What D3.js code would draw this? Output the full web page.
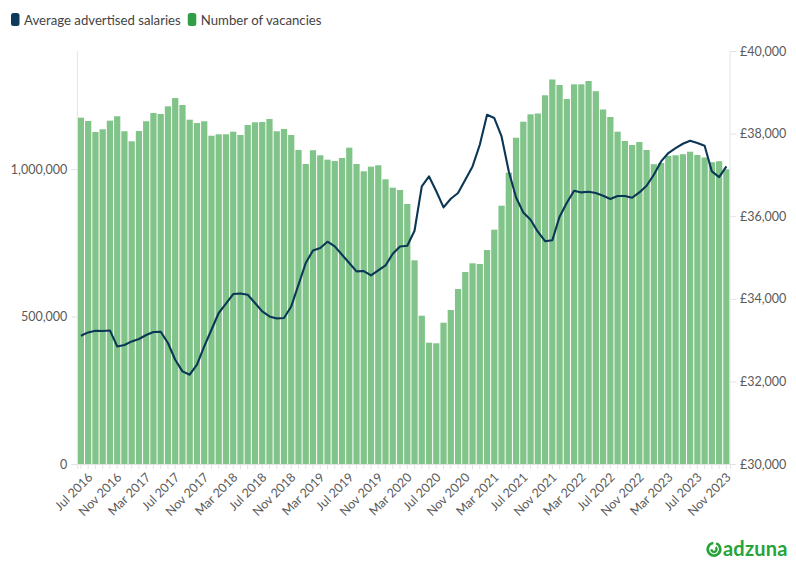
<!DOCTYPE html>
<html>
<head>
<meta charset="utf-8">
<script src="https://cdn.jsdelivr.net/npm/d3@7"></script>
<style>
  html, body { margin: 0; padding: 0; background: #fff; }
  svg { display: block; font-family: "Lato", "Open Sans", sans-serif; }
</style>
</head>
<body>
<svg id="chart" width="796" height="575"></svg>
<script>
// ---- data ----
const startMonth = "2016-07";
const monthCount = 90; // Jul 2016 .. Dec 2023
const vacancies = [
  1174000, 1162800, 1125500, 1134600, 1163800, 1178700, 1127900, 1093900, 1128900, 1161800,
  1189900, 1186500, 1212600, 1240700, 1217000, 1167200, 1156000, 1161800, 1112900, 1117700,
  1117700, 1126500, 1115300, 1149200, 1158300, 1159400, 1169600, 1127900, 1135700, 1115300,
  1064500, 1017000, 1063500, 1046500, 1031600, 1027200, 1037400, 1072300, 1017000, 992200,
  1007900, 1012600, 965100, 936700, 928900, 881400, 690500, 502700, 411200, 409200,
  479000, 522000, 593200, 650900, 680400, 678000, 725400, 794300, 875600, 987500,
  1106100, 1160400, 1185400, 1188200, 1249900, 1303400, 1284800, 1237300, 1287100, 1287100,
  1298300, 1263800, 1201700, 1176300, 1126500, 1094900, 1081400, 1091500, 1064400, 1016300,
  1020300, 1044800, 1046500, 1050200, 1058700, 1047500, 1039000, 1023100, 1026500, 999000
];
const salaries = [
  33106, 33186, 33227, 33220, 33234, 32847, 32881, 32968, 33026, 33123,
  33196, 33203, 32929, 32525, 32242, 32162, 32404, 32847, 33251, 33656,
  33881, 34116, 34130, 34099, 33898, 33694, 33573, 33525, 33535, 33815,
  34341, 34866, 35171, 35229, 35382, 35268, 35067, 34866, 34663, 34672,
  34566, 34687, 34808, 35091, 35268, 35285, 35648, 36721, 36963, 36605,
  36212, 36423, 36561, 36883, 37205, 37730, 38457, 38377, 37931, 37084,
  36454, 36091, 35915, 35624, 35394, 35418, 35987, 36326, 36617, 36576,
  36592, 36561, 36496, 36416, 36488, 36488, 36447, 36576, 36738, 37004,
  37326, 37529, 37650, 37754, 37827, 37771, 37706, 37084, 36948, 37205
];
const leftTicks = [0, 500000, 1000000];
const rightTicks = [30000, 32000, 34000, 36000, 38000, 40000];
const seriesNames = ["Average advertised salaries", "Number of vacancies"];
const labelEvery = 4;

// ---- build months ----
const parse = d3.timeParse("%Y-%m");
const fmtMonth = d3.timeFormat("%b %Y");
const months = d3.timeMonth.range(parse(startMonth), d3.timeMonth.offset(parse(startMonth), monthCount));
const data = months.map((m, i) => ({ m, key: fmtMonth(m), v: vacancies[i], s: salaries[i] }));

// ---- layout ----
const svg = d3.select("#chart");
const plotLeft = 77.3, plotRight = 730, plotTop = 51, plotBottom = 464;
const axisColor = "#e3e3e3";
const textColor = "#5a5a5a";

const x = d3.scaleBand().domain(data.map(d => d.key)).range([plotLeft, plotRight]).paddingInner(0.14).paddingOuter(0.07);
const yL = d3.scaleLinear().domain([0, 1400000]).range([plotBottom, plotTop]);
const yR = d3.scaleLinear().domain([30000, 40000]).range([plotBottom, plotTop]);

// bars
svg.append("g").selectAll("rect").data(data).join("rect")
  .attr("x", d => x(d.key))
  .attr("width", x.bandwidth())
  .attr("y", d => yL(d.v))
  .attr("height", d => yL(0) - yL(d.v))
  .attr("fill", "#81c489");

// left axis
const gL = svg.append("g").attr("transform", `translate(${plotLeft},0)`)
  .call(d3.axisLeft(yL).tickValues(leftTicks).tickFormat(d3.format(",")).tickSize(6).tickPadding(4));
gL.select(".domain").attr("stroke", axisColor).attr("d", `M0,${plotTop}V${plotBottom}`);
gL.selectAll(".tick line").attr("stroke", axisColor);
gL.selectAll(".tick text").attr("fill", textColor).attr("font-size", 12.5).attr("font-family", "Lato, sans-serif");

// right axis
const gR = svg.append("g").attr("transform", `translate(${plotRight},0)`)
  .call(d3.axisRight(yR).tickValues(rightTicks).tickFormat(d => "£" + d3.format(",")(d)).tickSize(6).tickPadding(4));
gR.select(".domain").attr("stroke", axisColor).attr("d", `M0,${plotTop}V${plotBottom}`);
gR.selectAll(".tick line").attr("stroke", axisColor);
gR.selectAll(".tick text").attr("fill", textColor).attr("font-size", 12.5).attr("font-family", "Lato, sans-serif");

// bottom axis
const gB = svg.append("g").attr("transform", `translate(0,${plotBottom})`)
  .call(d3.axisBottom(x).tickSize(5).tickFormat((d, i) => i % labelEvery === 0 ? d : ""));
gB.select(".domain").attr("stroke", axisColor);
gB.selectAll(".tick line").attr("stroke", axisColor).attr("y1", 1);
gB.selectAll(".tick text")
  .attr("fill", textColor).attr("font-size", 12.5).attr("font-family", "Lato, sans-serif")
  .attr("text-anchor", "end")
  .attr("dy", 0).attr("y", 0)
  .attr("transform", "translate(12.5,14) rotate(-45)");

// salary line
const line = d3.line().x(d => x(d.key) + x.bandwidth() / 2).y(d => yR(d.s));
svg.append("path").datum(data)
  .attr("d", line)
  .attr("fill", "none")
  .attr("stroke", "#0c3656")
  .attr("stroke-width", 2.1)
  .attr("stroke-linejoin", "round");

// legend
const legendColors = ["#0e3a5e", "#2f9e46"];
const legend = svg.append("g").attr("font-family", "Lato, sans-serif").attr("font-size", 13.2).attr("fill", "#444");
let lx = 11;
seriesNames.forEach((name, i) => {
  legend.append("rect").attr("x", lx).attr("y", 13).attr("width", 8.5).attr("height", 13).attr("rx", 2.5).attr("fill", legendColors[i]);
  const t = legend.append("text").attr("x", lx + 13).attr("y", 24.5).text(name);
  lx += 13 + t.node().getComputedTextLength() + 7;
});

// logo
const logo = svg.append("g").attr("fill", "none").attr("stroke", "#27a339");
const lcx = 714, lcy = 549.3;
const arcOuter = d3.arc()({ innerRadius: 6.3, outerRadius: 6.3, startAngle: 0.35, endAngle: 2 * Math.PI - 0.1 });
const arcInner = d3.arc()({ innerRadius: 2.6, outerRadius: 2.6, startAngle: Math.PI * 0.2, endAngle: Math.PI * 1.5 });
logo.append("path").attr("d", arcOuter).attr("transform", `translate(${lcx},${lcy})`).attr("stroke-width", 2.6).attr("stroke-linecap", "round");
logo.append("path").attr("d", arcInner).attr("transform", `translate(${lcx},${lcy})`).attr("stroke-width", 2.4).attr("stroke-linecap", "round");
svg.append("text").attr("x", 723).attr("y", 555.5).attr("fill", "#27a339")
  .attr("font-family", "Lato, sans-serif").attr("font-weight", 700).attr("font-size", 20).attr("letter-spacing", 0.2)
  .text("adzuna");
</script>
</body>
</html>
